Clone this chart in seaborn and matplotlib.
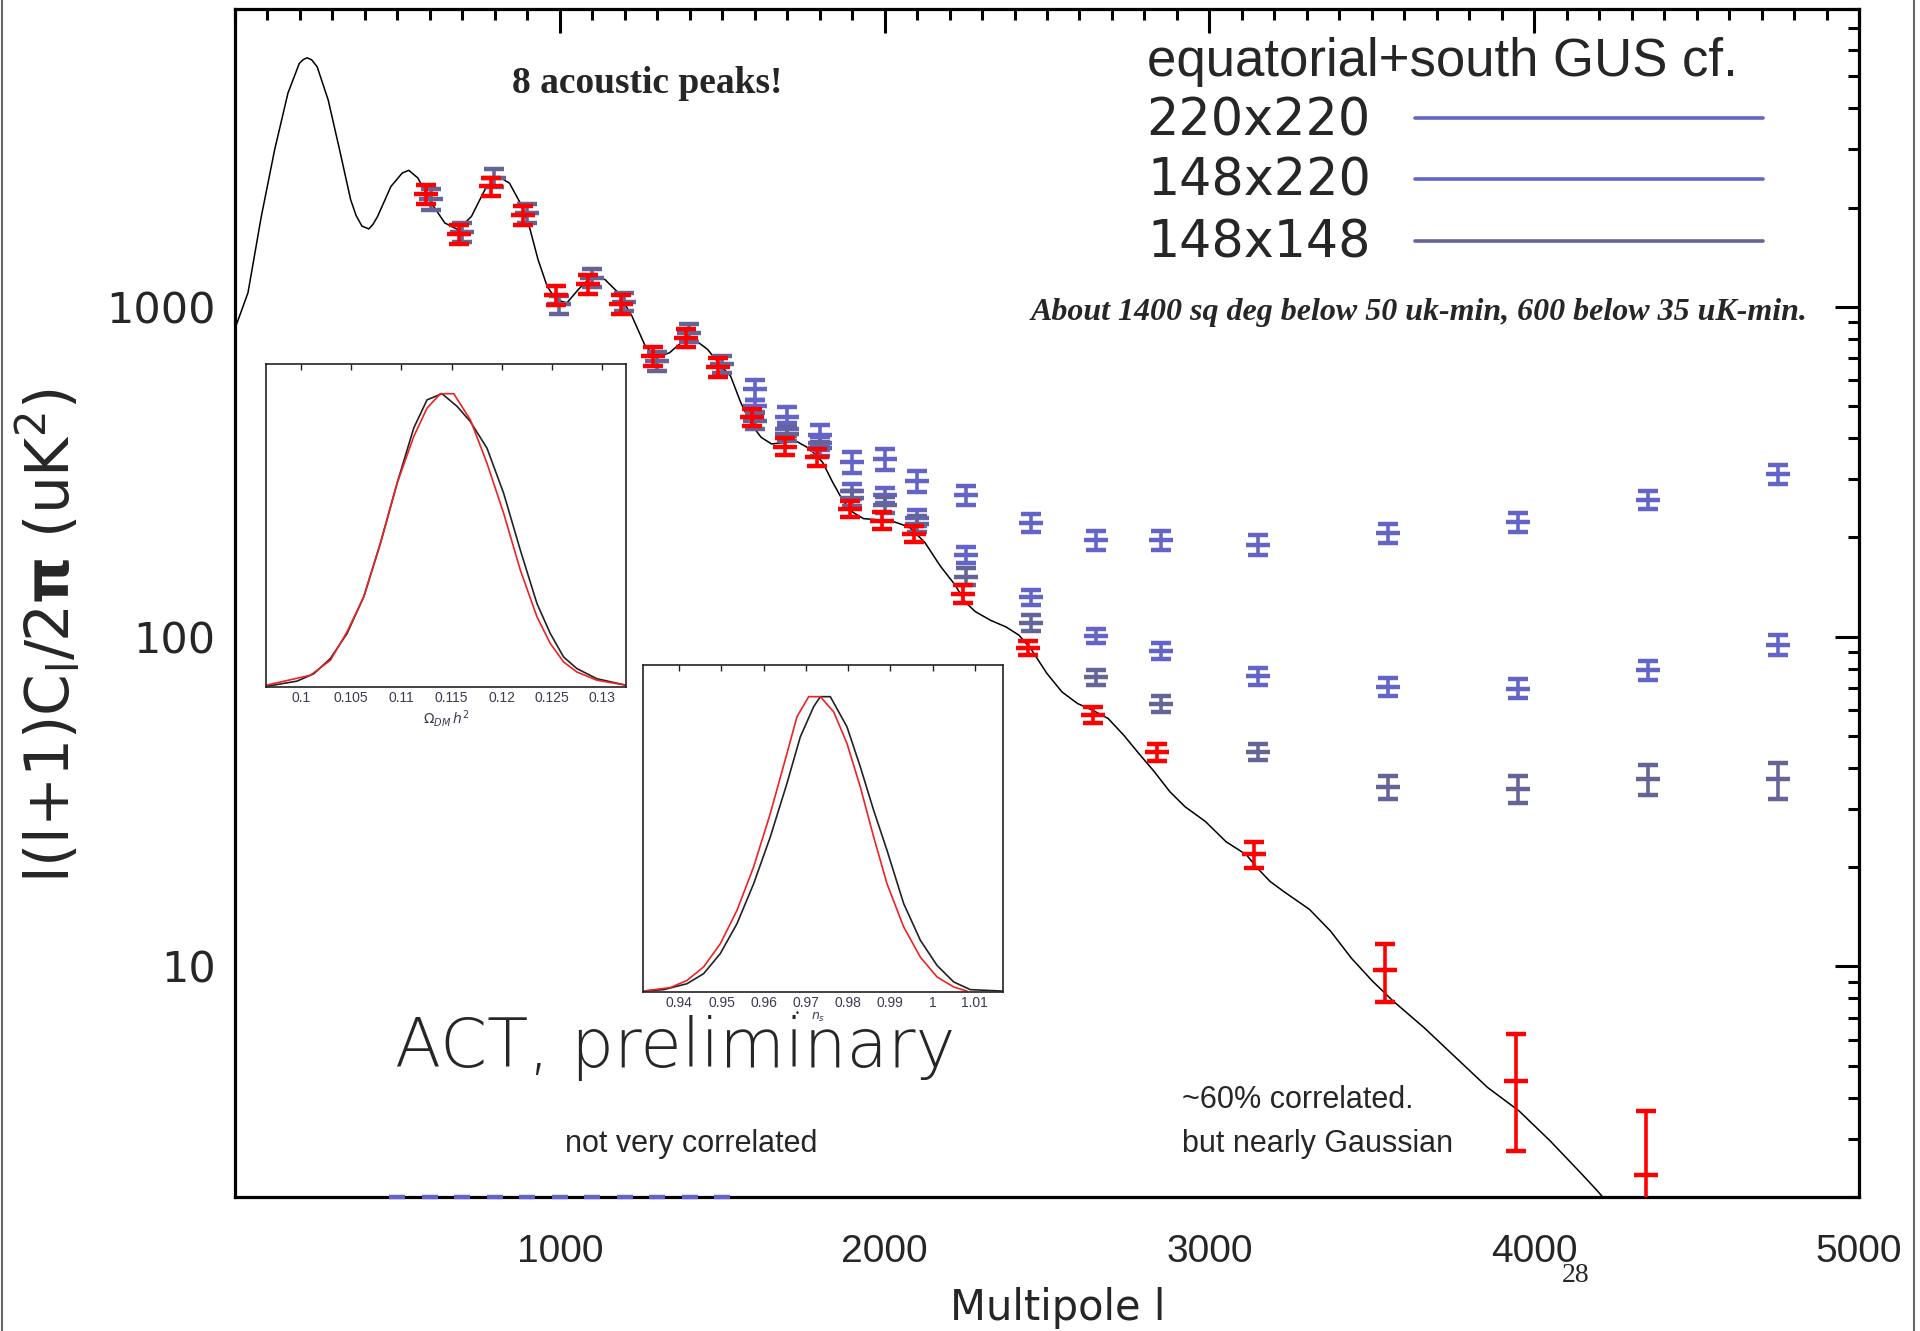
import numpy as np
import pandas as pd
import matplotlib
matplotlib.use('Agg')
import matplotlib.pyplot as plt
from matplotlib.lines import Line2D
import matplotlib.ticker as mticker
import seaborn as sns

# ---- data ----
# theory curve
ell_th = [2, 40, 81, 122, 163, 198, 210, 222, 236, 253, 287, 322, 356, 373, 391, 412, 425, 439,
          480, 515, 535, 563, 604, 646, 687, 728, 769, 810, 845, 878, 906, 933, 961, 988, 1022,
          1057, 1098, 1139, 1180, 1222, 1263, 1297, 1338, 1373, 1414, 1455, 1496, 1526, 1557,
          1589, 1620, 1652, 1691, 1731, 1770, 1809, 1840, 1872, 1903, 1935, 1982, 2029, 2076,
          2124, 2171, 2218, 2249, 2280, 2327, 2374, 2414, 2453, 2500, 2546, 2594, 2641, 2688,
          2736, 2783, 2830, 2878, 2925, 2988, 3051, 3114, 3147, 3187, 3228, 3308, 3373, 3437,
          3502, 3566, 3662, 3759, 3856, 3953, 4049, 4146, 4194, 4274]
cl_th = [870, 1104, 1880, 2993, 4446, 5472, 5620, 5690, 5610, 5343, 4236, 2993, 2114, 1890, 1757,
         1723, 1780, 1880, 2317, 2546, 2594, 2459, 2067, 1796, 1713, 1880, 2263, 2486, 2372, 2067,
         1754, 1391, 1155, 1052, 1028, 1129, 1239, 1210, 1104, 938, 761, 702, 726, 778, 797, 743,
         662, 616, 513, 441, 402, 384, 388, 390, 371, 338, 294, 258, 238, 228, 226, 223, 215, 193,
         164, 143, 127, 119, 112, 107, 101, 91, 77.3, 68, 62.7, 59.8, 56.5, 50.3, 44.2, 39, 33.9,
         30.5, 27.5, 23.9, 21.8, 19.9, 18.1, 16.9, 14.9, 12.8, 10.6, 9.03, 7.85, 6.51, 5.29, 4.30,
         3.65, 2.96, 2.35, 2.09, 1.7]

# ACT (red)
ell_act = [588, 690, 788, 888, 988, 1088, 1188, 1288, 1388, 1488, 1592, 1692, 1792, 1892, 1992,
           2092, 2242, 2442, 2642, 2840, 3138, 3541, 3944, 4345]
cl_act = [2198, 1663, 2317, 1901, 1085, 1169, 1017, 710, 806, 655, 462, 377, 350, 244, 225, 205,
          135, 92.5, 57.8, 44.6, 21.9, 9.75, 4.5, 2.34]
err_act = [145, 110, 150, 125, 70, 76, 66, 46, 52, 43, 28, 22, 20, 14, 13, 12, 8.5, 4.5, 3.2,
           2.6, 2.0, 1.95, 1.75, 1.3]

# GUS cross spectra
ell_gus = [1601, 1701, 1801, 1901, 2001, 2101, 2251, 2451, 2651, 2851, 3151, 3551, 3951, 4351, 4751]
cl_220x220 = [562, 463, 408, 339, 345, 297, 268, 221, 196, 196, 190, 206, 222, 260, 311]
err_220x220 = [40, 33, 30, 25, 25, 22, 18, 14, 13, 13, 13, 14, 15, 16, 20]
cl_148x220 = [501, 426, 386, 276, 268, 229, 177, 131.5, 100.5, 90.6, 75.9, 70.5, 69.6, 79, 94.4]
err_148x220 = [22, 20, 18, 15, 14, 13, 10, 7, 5, 5, 4.5, 4.5, 4.6, 5.3, 6.5]

ell_148 = [602, 700, 798, 898, 998, 1098, 1198, 1298, 1398, 1498, 1601, 1701, 1801, 1901, 2001,
           2101, 2251, 2451, 2651, 2851, 3151, 3551, 3951, 4351, 4751]
cl_148x148 = [2123, 1687, 2466, 1926, 1017, 1224, 1036, 685, 835, 670, 451, 411, 372, 263, 251,
              220, 152, 110, 75.3, 62.4, 44.8, 35.0, 34.5, 36.9, 36.9]
err_148x148 = [150, 110, 160, 125, 65, 75, 65, 45, 50, 42, 25, 20, 18, 14, 14, 12, 9, 6, 4, 3.5,
               2.6, 2.9, 3.3, 3.9, 4.6]

# series sitting below the plot floor (only the caps show)
ell_floor = [500, 600, 700, 800, 900, 1000, 1100, 1200, 1300, 1400, 1500]

# inset 1: Omega_DM h^2 posteriors
om_black_x = [0.09651, 0.0996, 0.10126, 0.10292, 0.10458, 0.10625, 0.10791, 0.10957, 0.11123,
              0.11256, 0.11405, 0.11555, 0.11688, 0.11854, 0.1202, 0.12186, 0.12352, 0.12485,
              0.12618, 0.12751, 0.1295, 0.13243]
om_black_y = [0.002, 0.02, 0.045, 0.097, 0.182, 0.307, 0.489, 0.693, 0.881, 0.977, 0.998, 0.955,
              0.903, 0.8125, 0.659, 0.466, 0.284, 0.182, 0.102, 0.0625, 0.028, 0.006]
om_red_x = [0.09651, 0.10093, 0.10292, 0.10458, 0.10625, 0.10791, 0.10957, 0.11123, 0.11256,
            0.11389, 0.11522, 0.11688, 0.11854, 0.1202, 0.12186, 0.12352, 0.12485, 0.12618,
            0.12751, 0.1295, 0.13243]
om_red_y = [0.006, 0.04, 0.091, 0.1875, 0.307, 0.489, 0.693, 0.852, 0.949, 0.998, 0.998, 0.909,
            0.761, 0.591, 0.398, 0.239, 0.148, 0.085, 0.051, 0.023, 0.006]
om_ticks = [0.1, 0.105, 0.11, 0.115, 0.12, 0.125, 0.13]

# inset 2: n_s posteriors
ns_black_x = [0.93139, 0.93629, 0.94182, 0.94577, 0.94972, 0.95367, 0.95762, 0.96156, 0.96551,
              0.96867, 0.97183, 0.97341, 0.97578, 0.97973, 0.98289, 0.98605, 0.98921, 0.99316,
              0.99711, 1.00106, 1.00501, 1.00896, 1.0167]
ns_black_y = [0.003, 0.008, 0.028, 0.062, 0.13, 0.231, 0.366, 0.524, 0.705, 0.862, 0.964, 0.998,
              0.998, 0.896, 0.761, 0.614, 0.479, 0.299, 0.175, 0.09, 0.034, 0.008, 0.003]
ns_red_x = [0.93139, 0.93787, 0.94182, 0.94577, 0.94972, 0.95367, 0.95762, 0.96156, 0.96551,
            0.96788, 0.97065, 0.97341, 0.97657, 0.97973, 0.98289, 0.98605, 0.98921, 0.99316,
            0.99711, 1.00106, 1.00501, 1.00817]
ns_red_y = [0.003, 0.015, 0.039, 0.085, 0.163, 0.276, 0.423, 0.603, 0.806, 0.93, 0.998, 0.998,
            0.947, 0.84, 0.693, 0.524, 0.366, 0.22, 0.118, 0.051, 0.017, 0.003]
ns_ticks = [0.94, 0.95, 0.96, 0.97, 0.98, 0.99, 1.0, 1.01]
ns_ticklabels = ['0.94', '0.95', '0.96', '0.97', '0.98', '0.99', '1', '1.01']

legend_labels = ['220x220', '148x220', '148x148']

# ---- style ----
sns.set_theme(style='white')
plt.rcParams['font.family'] = ['DejaVu Sans']

BLUE = '#6464c8'
SLATE = '#646496'
RED = '#ff0000'

W, H = 1920, 1331
fig = plt.figure(figsize=(W / 100, H / 100), dpi=100)
fig.patch.set_facecolor('white')


def fx(x):
    return x / W


def fy(y):
    return 1 - y / H


ax = fig.add_axes([fx(235), fy(1197), fx(1859) - fx(235), fy(9) - fy(1197)])

# theory curve
sns.lineplot(x=ell_th, y=cl_th, ax=ax, color='black', linewidth=1.1, sort=False, zorder=2)


def bars(x, y, e, c, z):
    ax.errorbar(x, y, yerr=e, fmt='_', ms=17, mew=3.2, color=c, ecolor=c,
                elinewidth=2.6, capsize=7, capthick=3.2, zorder=z)


bars(ell_gus, cl_220x220, err_220x220, BLUE, 3)
bars(ell_gus, cl_148x220, err_148x220, BLUE, 3)
bars(ell_148, cl_148x148, err_148x148, SLATE, 4)
bars(ell_act, cl_act, err_act, RED, 5)

ax.set_yscale('log')
ax.set_xlim(0, 5000)
ax.set_ylim(2, 8000)

# caps of the off-scale series along the floor
ax.plot(ell_floor, [ax.get_ylim()[0]] * len(ell_floor), ls='none', marker='_', ms=11,
        mew=3.2, color=BLUE, clip_on=False, zorder=6)

ax.xaxis.set_major_locator(mticker.FixedLocator([1000, 2000, 3000, 4000, 5000]))
ax.xaxis.set_minor_locator(mticker.MultipleLocator(100))
ax.yaxis.set_major_locator(mticker.FixedLocator([10, 100, 1000]))
ax.yaxis.set_minor_locator(mticker.LogLocator(base=10, subs=np.arange(2, 10)))
ax.yaxis.set_minor_formatter(mticker.NullFormatter())
ax.yaxis.set_major_formatter(mticker.FuncFormatter(lambda v, p: f'{int(v)}'))
ax.xaxis.set_major_formatter(mticker.FuncFormatter(lambda v, p: f'{int(v)}'))

ax.tick_params(which='both', direction='in', top=True, right=True, width=2.2, color='black')
ax.tick_params(which='major', length=17)
ax.tick_params(which='minor', length=8)
ax.tick_params(axis='y', which='major', pad=14, labelsize=31)
ax.tick_params(axis='x', which='major', pad=27, labelsize=28)
for lab in ax.get_xticklabels():
    lab.set_family(['Liberation Sans', 'DejaVu Sans'])
for sp in ax.spines.values():
    sp.set_linewidth(2.3)
    sp.set_color('black')

# axis titles placed where the reference has them
fig.text(fx(1058), fy(1320), 'Multipole l', fontsize=30, ha='center', va='baseline')
fig.text(fx(49), fy(635), r'l(l+1)C$_\mathregular{l}$/2$\mathbf{\pi}$ (uK$^\mathregular{2}$)',
         fontsize=43, rotation=90, ha='center', va='center')

# ---- legend drawn by hand ----
fig.text(fx(1147), fy(76), 'equatorial+south GUS cf.', fontsize=38, ha='left', va='baseline',
         family=['Liberation Sans'])
for lab, yy, c in zip(legend_labels, [118, 179, 241], [BLUE, BLUE, SLATE]):
    fig.text(fx(1371), fy(yy + 17), lab, fontsize=36.5, ha='right', va='baseline')
    fig.add_artist(Line2D([fx(1415), fx(1763)], [fy(yy), fy(yy)], color=c, lw=2.6))

# ---- annotations ----
fig.text(fx(512), fy(93), '8 acoustic peaks!', fontsize=27, fontweight='bold',
         family=['Liberation Serif'], ha='left', va='baseline')
fig.text(fx(1808), fy(320), 'About 1400 sq deg below 50 uk-min, 600 below 35 uK-min.',
         fontsize=23, fontweight='bold', fontstyle='italic', family=['Liberation Serif'],
         ha='right', va='baseline')
fig.text(fx(395), fy(1067), 'ACT, preliminary', fontsize=48.5, fontweight='light',
         family=['DejaVu Sans'], ha='left', va='baseline')
fig.text(fx(565), fy(1152), 'not very correlated', fontsize=22,
         family=['Liberation Sans'], ha='left', va='baseline')
fig.text(fx(1182), fy(1108), '~60% correlated.', fontsize=22,
         family=['Liberation Sans'], ha='left', va='baseline')
fig.text(fx(1182), fy(1152), 'but nearly Gaussian', fontsize=22,
         family=['Liberation Sans'], ha='left', va='baseline')
fig.text(fx(1576), fy(1276), '28', fontsize=20, family=['Liberation Serif'],
         ha='center', va='center')

# slide borders
fig.add_artist(Line2D([fx(2), fx(2)], [0, 1], color='#666666', lw=1.5))
fig.add_artist(Line2D([fx(1914), fx(1914)], [0, 1], color='#666666', lw=1.5))

# ---- insets ----
TICKC = '#3a3a50'


def inset(box, bx, by, rx, ry, ticks, ticklabels, xlim, ytop):
    l, t, r, b = box
    ia = fig.add_axes([fx(l), fy(b), fx(r) - fx(l), fy(t) - fy(b)])
    ia.set_facecolor('white')
    sns.lineplot(x=bx, y=by, ax=ia, color='#222222', linewidth=1.2, sort=False)
    sns.lineplot(x=rx, y=ry, ax=ia, color='#ee2222', linewidth=1.2, sort=False)
    ia.set_xlim(*xlim)
    ia.set_ylim(0, ytop)
    ia.set_xticks(ticks)
    ia.set_xticklabels(ticklabels, fontsize=10, color=TICKC, family=['Liberation Sans'])
    ia.set_yticks([])
    ia.tick_params(axis='x', direction='in', top=True, length=4, width=1, pad=3, color='#222222')
    ia.set_xlabel('')
    ia.set_ylabel('')
    for sp in ia.spines.values():
        sp.set_linewidth(1.2)
        sp.set_color('#222222')
    ia.set_zorder(10)
    return ia


inset((266, 364, 626, 687), om_black_x, om_black_y, om_red_x, om_red_y,
      om_ticks, [f'{t:g}' for t in om_ticks], (0.0965, 0.1324), 1.099)
inset((643, 665, 1003, 992), ns_black_x, ns_black_y, ns_red_x, ns_red_y,
      ns_ticks, ns_ticklabels, (0.9314, 1.0167), 1.105)

fig.text(fx(446), fy(719), r'$\Omega_{DM}\,h^2$', fontsize=10, color=TICKC, ha='center', va='center')
fig.text(fx(797), fy(1013), '\u2022', fontsize=6, color='#222222', ha='center', va='center')
fig.text(fx(818), fy(1017), r'$n_s$', fontsize=9, color=TICKC, ha='center', va='center')

fig.savefig('out.png', dpi=100, facecolor='white')
